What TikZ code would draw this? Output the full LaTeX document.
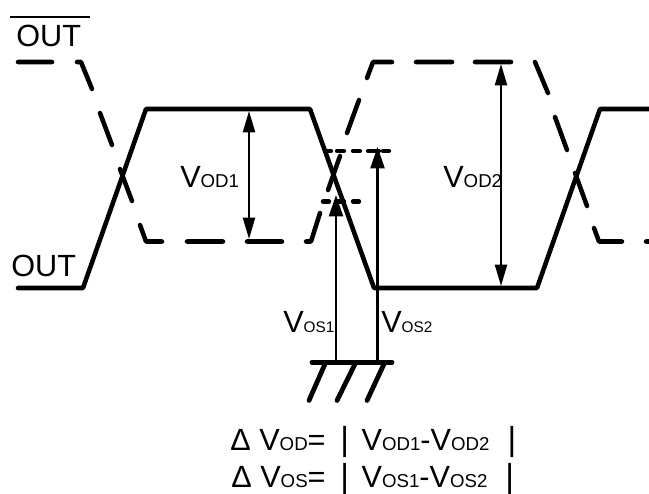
\documentclass[tikz,border=0pt]{standalone}
\usepackage{fontspec}
\setmainfont{Liberation Sans}
\usetikzlibrary{arrows.meta}

\newcommand{\bigsize}{\fontsize{23pt}{25pt}\selectfont}
\newcommand{\subsize}{\fontsize{14pt}{15pt}\selectfont}
\newcommand{\smallsub}{\fontsize{11.5pt}{13pt}\selectfont}
\newcommand{\volt}[1]{V{\subsize #1}}
\newcommand{\voltsmall}[1]{V{\smallsub #1}}
\newcommand{\absbar}{{\fontsize{25pt}{25pt}\selectfont |}}

\begin{document}
\begin{tikzpicture}[x=0.75pt,y=-0.75pt]
\tikzset{label text/.style={font=\bigsize,inner sep=0pt,anchor=base west}}
\tikzset{solid wave/.style={line width=3.4pt,line join=round,line cap=round}}
\tikzset{dot level/.style={line width=3.2pt,line cap=round}}
\tikzset{measure/.style={line width=1.7pt,{Triangle[length=16pt,width=9pt]}-{Triangle[length=16pt,width=9pt]}}}
\tikzset{rise/.style={line width=1.7pt,-{Triangle[length=16pt,width=10.5pt]}}}
\tikzset{earth/.style={line width=3.6pt,line cap=round}}

\useasboundingbox (0,0) rectangle (649,493);

% waveforms
\draw[solid wave] (18,62) -- (52,62) (77,62) -- (81,62) -- (92,89) (100,113) -- (112,145) (120,169) -- (132,201)
  (140,225) -- (146,241.5) -- (162,241.5) (187,241.5) -- (223,241.5) (247,241.5) -- (282,241.5)
  (306,241.5) -- (311,241.5) -- (320,213) (328,190) -- (340,156) (347,133) -- (359,100)
  (367,78) -- (373,62) -- (392,62) (416,62) -- (452,62) (475,62) -- (511,62) (535,62) -- (548,93)
  (555,117) -- (567,150) (575,173) -- (587,206) (594,228) -- (599,241.5) -- (622,241.5) (646,241.5) -- (651,241.5);
\draw[solid wave] (18,288) -- (83,288) -- (146,109) -- (310,109) -- (374,288) -- (537,288) -- (600,109) -- (651,109);

% levels of the common mode
\draw[dot level] (326,151) -- (331,151) (337,151) -- (344,151) (353,151) -- (360,151) (368,151) -- (379,151) (383,151) -- (389,151);
\draw[dot level] (323,201.5) -- (329,201.5) (337,201.5) -- (344,201.5) (353,201.5) -- (359,201.5);

% ground
\coordinate (gndL) at (312,362.5);
\coordinate (gndR) at (392,362.5);
\coordinate (gnd1) at (336,362.5);
\coordinate (gnd2) at (377.5,362.5);
\draw[earth] (gndL) -- (gndR);
\draw[earth] (325,364) -- (309,400.5);
\draw[earth] (355,364) -- (337,400.5);
\draw[earth] (384,364) -- (367,400.5);

% arrows
\coordinate (od1top) at (249,111);
\coordinate (od1bot) at (249,239);
\coordinate (od2top) at (501,64);
\coordinate (od2bot) at (501,286);
\coordinate (os1top) at (336,195);
\coordinate (os2top) at (377.5,147);
\draw[measure] (od1top) -- (od1bot);
\draw[measure] (od2top) -- (od2bot);
\draw[rise] (gnd1) -- (os1top);
\draw[rise] (gnd2) -- (os2top);

% labels
\coordinate (barL) at (10,17);
\coordinate (barR) at (90,17);
\draw[line width=1.5pt] (barL) -- (barR);
\node[label text] (outbar) at (16,46) {OUT};
\node[label text] (out) at (11,276) {OUT};
\node[label text] (vod1) at (180,187) {\volt{OD1}};
\node[label text] (vod2) at (443,187) {\volt{OD2}};
\node[label text] (vos1) at (283,332) {\voltsmall{OS1}};
\node[label text] (vos2) at (381,332) {\voltsmall{OS2}};
\node[label text] (dvod) at (230,450) {Δ \volt{OD}=\hspace{11pt}\absbar\hspace{9.5pt}\volt{OD1}-\volt{OD2}\hspace{13.5pt}\absbar};
\node[label text] (dvos) at (231,487) {Δ \volt{OS}=\hspace{11pt}\absbar\hspace{9.5pt}\volt{OS1}-\volt{OS2}\hspace{13.5pt}\absbar};
\end{tikzpicture}
\end{document}
